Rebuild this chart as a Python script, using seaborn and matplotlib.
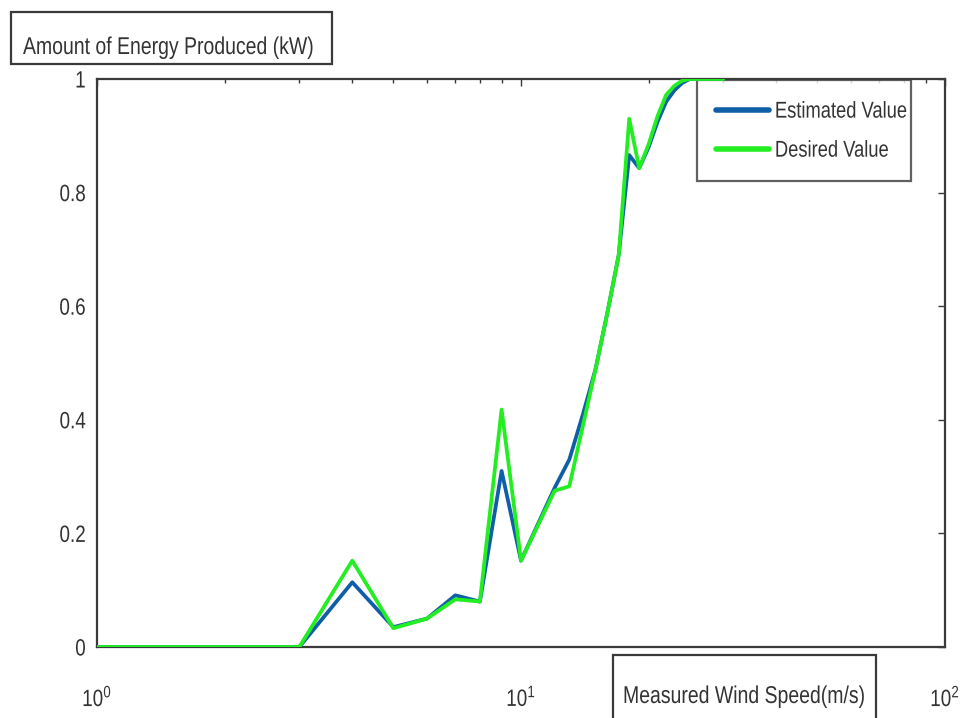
import matplotlib
matplotlib.use("Agg")
import matplotlib.pyplot as plt
from matplotlib.patches import Rectangle
from matplotlib.patheffects import AbstractPathEffect
from matplotlib.transforms import Affine2D
from matplotlib.ticker import LogLocator, FixedLocator, NullFormatter
import seaborn as sns
import pandas as pd

# Wind speed samples (m/s) and normalised energy output
wind_speed = [1, 2, 3, 4, 5, 6, 7, 8, 9, 10, 12, 13, 14, 15, 16, 17, 18, 19,
              20, 21, 22, 23, 24, 25, 30]
estimated = [0, 0, 0, 0.114, 0.035, 0.05, 0.091, 0.08, 0.31, 0.152, 0.28, 0.33,
             0.41, 0.49, 0.59, 0.69, 0.866, 0.843, 0.88, 0.925, 0.96, 0.98,
             0.993, 1.0, 1.0]
desired = [0, 0, 0, 0.152, 0.033, 0.05, 0.084, 0.08, 0.418, 0.152, 0.275, 0.283,
           0.39, 0.49, 0.59, 0.69, 0.93, 0.843, 0.885, 0.935, 0.972, 0.988,
           0.997, 1.0, 1.0]
series_names = ["Estimated Value", "Desired Value"]
series_colors = ["#0f5fa8", "#22ee22"]
y_ticks = [0, 0.2, 0.4, 0.6, 0.8, 1]
y_tick_labels = ["0", "0.2", "0.4", "0.6", "0.8", "1"]

df = pd.concat([
    pd.DataFrame({"speed": wind_speed, "energy": estimated, "series": series_names[0]}),
    pd.DataFrame({"speed": wind_speed, "energy": desired, "series": series_names[1]}),
])


class Narrow(AbstractPathEffect):
    """Horizontally condense glyph outlines, keeping the given anchor fixed."""

    def __init__(self, sx=0.8, anchor="left"):
        super().__init__()
        self.sx = sx
        self.anchor = anchor

    def draw_path(self, renderer, gc, tpath, affine, rgbFace=None):
        ext = tpath.get_extents()
        if self.anchor == "right":
            px = ext.x1
        elif self.anchor == "center":
            px = 0.5 * (ext.x0 + ext.x1)
        else:
            px = 0.0
        squeeze = Affine2D().translate(-px, 0).scale(self.sx, 1).translate(px, 0)
        renderer.draw_path(gc, tpath, squeeze + affine, rgbFace)


sns.set_style("white")
plt.rcParams["font.family"] = ["Liberation Sans", "DejaVu Sans"]
plt.rcParams["mathtext.default"] = "regular"

TXT = "#333333"
EDGE = "#3a3a3a"
W, H = 964, 718
fig = plt.figure(figsize=(W / 100, H / 100), dpi=100)
ax = fig.add_axes([97 / W, 1 - 647 / H, (945 - 97) / W, (647 - 79) / H])

sns.lineplot(data=df, x="speed", y="energy", hue="series",
             palette=dict(zip(series_names, series_colors)),
             linewidth=2.7, ax=ax, legend=True, sort=False, estimator=None)

ax.set_xscale("log")
ax.set_xlim(1, 100)
ax.set_ylim(0, 1)
ax.set_xlabel("")
ax.set_ylabel("")

ax.xaxis.set_major_locator(LogLocator(base=10, numticks=5))
ax.xaxis.set_minor_locator(LogLocator(base=10, subs=range(2, 10), numticks=20))
ax.xaxis.set_minor_formatter(NullFormatter())
ax.yaxis.set_major_locator(FixedLocator(y_ticks))
ax.set_yticklabels(y_tick_labels)

for sp in ax.spines.values():
    sp.set_color(EDGE)
    sp.set_linewidth(1.6)
    sp.set_visible(True)

ax.tick_params(axis="both", which="both", direction="in", top=True, right=True,
               color=EDGE, width=1.0)
ax.tick_params(axis="both", which="major", length=5, labelsize=17,
               labelcolor=TXT)
ax.tick_params(axis="both", which="minor", length=3)
ax.tick_params(axis="x", which="major", pad=28)
ax.tick_params(axis="y", which="major", pad=8)

# Legend box spans a fixed slot in the upper right corner of the axes
x_l = (697 - 97) / 848
x_r = (911 - 97) / 848
leg = ax.legend(loc="upper right", bbox_to_anchor=(x_l, 0.5, x_r - x_l, 0.498),
                mode="expand", borderaxespad=0, fontsize=16.5, frameon=True,
                fancybox=False, handlelength=2.3, handletextpad=0.25,
                labelspacing=0.7, borderpad=0.85)
leg.get_frame().set_edgecolor(EDGE)
leg.get_frame().set_linewidth(1.6)
for h in leg.get_lines():
    h.set_linewidth(4)
for t in leg.get_texts():
    t.set_color(TXT)
    t.set_path_effects([Narrow(0.8, "left")])
leg.set_zorder(1)
for ln in ax.get_lines():
    ln.set_zorder(3)

for t in ax.get_xticklabels():
    t.set_path_effects([Narrow(0.8, "center")])
for t in ax.get_yticklabels():
    t.set_path_effects([Narrow(0.8, "right")])


def boxed_label(text, x0, y0, x1, y1, tx, ty):
    fig.patches.append(Rectangle((x0 / W, 1 - y1 / H), (x1 - x0) / W, (y1 - y0) / H,
                                 transform=fig.transFigure, fill=True,
                                 facecolor="white", edgecolor=EDGE,
                                 linewidth=1.6, zorder=5))
    fig.text(tx / W, 1 - ty / H, text, fontsize=17.5, color=TXT,
             ha="left", va="baseline", zorder=6,
             path_effects=[Narrow(0.8, "left")])


boxed_label("Amount of Energy Produced (kW)", 11, 12, 332, 64, 23, 54)
boxed_label("Measured Wind Speed(m/s)", 613, 655, 876, 730, 623, 703)

fig.savefig("out.png", dpi=100)
